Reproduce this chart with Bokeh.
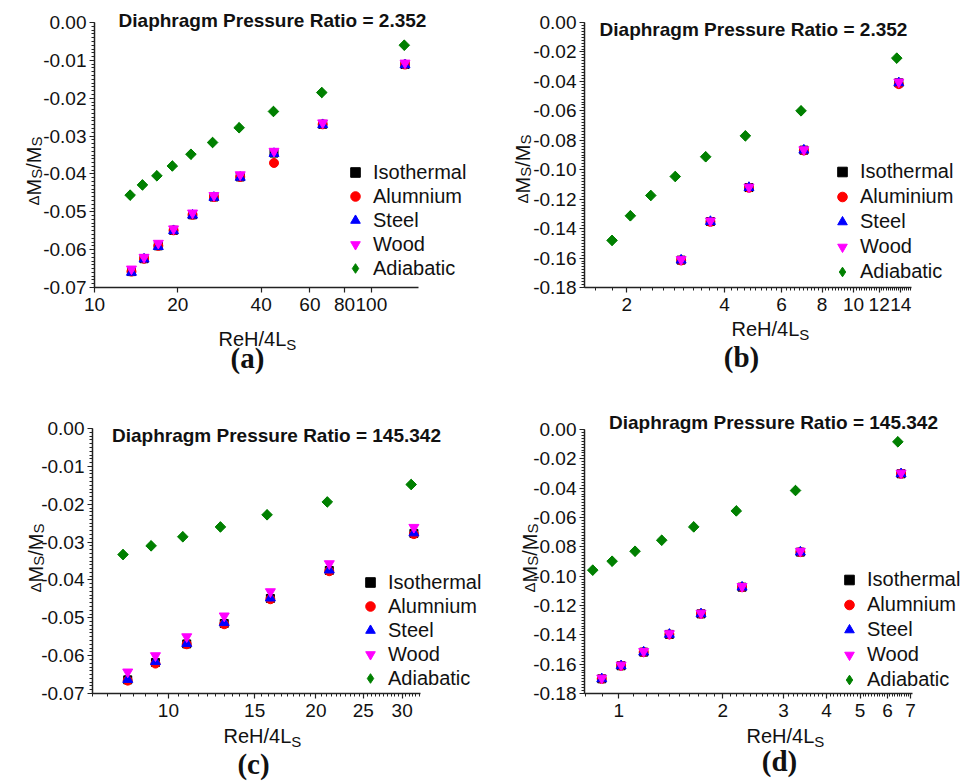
import math

from bokeh.embed import file_html
from bokeh.layouts import column, row
from bokeh.models import (FixedTicker, Label, Legend, LegendItem,
                          PrintfTickFormatter, Range1d)
from bokeh.plotting import figure
from bokeh.resources import INLINE

# ---------------------------------------------------------------- data
# (a) diaphragm pressure ratio 2.352
A_RE_ADIA = [13.45, 14.9, 16.8, 19.1, 22.3, 26.7, 33.3, 44.3, 66.2, 131.5]
A_ADIA = [-0.0456, -0.0429, -0.0405, -0.0379, -0.0348, -0.0317, -0.0278, -0.0235, -0.0185, -0.0060]
A_RE = [13.6, 15.1, 17.0, 19.3, 22.6, 27.0, 33.6, 44.5, 66.7, 132.3]
A_ISO = [-0.0658, -0.0624, -0.0590, -0.0549, -0.0508, -0.0461, -0.0408, -0.0345, -0.0269, -0.0111]
A_ALUM = [-0.0658, -0.0624, -0.0590, -0.0549, -0.0508, -0.0461, -0.0408, -0.0371, -0.0269, -0.0111]
A_STEEL = [-0.0660, -0.0625, -0.0592, -0.0550, -0.0509, -0.0462, -0.0409, -0.0346, -0.0270, -0.0112]
A_WOOD = [-0.0651, -0.0620, -0.0583, -0.0545, -0.0503, -0.0457, -0.0402, -0.0340, -0.0265, -0.0107]

# (b) diaphragm pressure ratio 2.352
B_RE_ADIA = [1.80, 2.05, 2.37, 2.82, 3.50, 4.64, 6.89, 13.6]
B_ADIA = [-0.1480, -0.1313, -0.1175, -0.1046, -0.0912, -0.0770, -0.0600, -0.0242]
B_RE = [2.94, 3.62, 4.76, 7.03, 13.8]
B_ISO = [-0.1614, -0.1352, -0.1121, -0.0867, -0.0410]
B_ALUM = [-0.1616, -0.1354, -0.1123, -0.0869, -0.0419]
B_STEEL = [-0.1614, -0.1352, -0.1121, -0.0867, -0.0410]
B_WOOD = [-0.1610, -0.1348, -0.1118, -0.0864, -0.0404]

# (c) diaphragm pressure ratio 145.342
C_RE_ADIA = [8.08, 9.22, 10.7, 12.77, 15.9, 21.1, 31.3]
C_ADIA = [-0.0333, -0.0310, -0.0286, -0.0260, -0.0228, -0.0194, -0.0148]
C_RE = [8.26, 9.41, 10.9, 13.0, 16.15, 21.3, 31.7]
C_ISO = [-0.0664, -0.0618, -0.0569, -0.0515, -0.0449, -0.0375, -0.0277]
C_ALUM = [-0.0666, -0.0621, -0.0570, -0.0517, -0.0451, -0.0377, -0.0279]
C_STEEL = [-0.0663, -0.0616, -0.0568, -0.0513, -0.0448, -0.0374, -0.0276]
C_WOOD = [-0.0643, -0.0600, -0.0550, -0.0495, -0.0431, -0.0357, -0.0261]

# (d) diaphragm pressure ratio 145.342
D_RE_ADIA = [0.841, 0.957, 1.115, 1.332, 1.649, 2.19, 3.25, 6.43]
D_ADIA = [-0.0959, -0.0898, -0.0830, -0.0755, -0.0664, -0.0555, -0.0416, -0.0084]
D_RE = [0.893, 1.016, 1.181, 1.402, 1.731, 2.276, 3.357, 6.57]
D_ISO = [-0.1700, -0.1611, -0.1518, -0.1397, -0.1257, -0.1075, -0.0836, -0.0302]
D_ALUM = [-0.1700, -0.1611, -0.1518, -0.1397, -0.1257, -0.1075, -0.0836, -0.0302]
D_STEEL = [-0.1700, -0.1611, -0.1518, -0.1397, -0.1257, -0.1075, -0.0836, -0.0302]
D_WOOD = [-0.1695, -0.1606, -0.1513, -0.1392, -0.1252, -0.1070, -0.0830, -0.0297]

# tick labels
A_XTICKS = [10, 20, 40, 60, 80, 100]
B_XTICKS = [2, 4, 6, 8, 10, 12, 14]
C_XTICKS = [10, 15, 20, 25, 30]
D_XTICKS = [1, 2, 3, 4, 5, 6, 7]
Y_TICKS_SMALL = [-0.07, -0.06, -0.05, -0.04, -0.03, -0.02, -0.01, 0.0]
Y_TICKS_LARGE = [-0.18, -0.16, -0.14, -0.12, -0.10, -0.08, -0.06, -0.04, -0.02, 0.0]

TITLE_LOW = "Diaphragm Pressure Ratio = 2.352"
TITLE_HIGH = "Diaphragm Pressure Ratio = 145.342"
LEGEND_LABELS = ["Isothermal", "Alumnium", "Steel", "Wood", "Adiabatic"]
LEGEND_LABELS_B = ["Isothermal", "Aluminium", "Steel", "Wood", "Adiabatic"]

FONT = "Liberation Sans"
AXIS_COLOR = "#222222"
TEXT_COLOR = "#111111"
COLORS = ["#000000", "#ff0000", "#0000ff", "#ff00ff", "#008000"]

# approximate advance widths (em) used to lay out the sub-scripted labels
ADV = {"R": 0.722, "e": 0.556, "H": 0.722, "/": 0.278, "4": 0.556,
       "L": 0.556, "S": 0.667, "M": 0.833, "Δ": 0.668}


def steps(start, stop, step):
    n = int(round((stop - start) / step))
    return [round(start + i * step, 6) for i in range(n + 1)]


class Panel:
    """One sub-plot; the frame fills the whole figure and the axes are
    pinned to the corner of the data box, so every text can sit outside it."""

    def __init__(self, w, h, box, xr, yr, xmajor, xminor, ymajor, yminor):
        left, right, top, bottom = box
        self.h = h
        lx0, lx1 = math.log10(xr[0]), math.log10(xr[1])
        kx = (lx1 - lx0) / (right - left)
        ky = (yr[1] - yr[0]) / (bottom - top)
        x_range = Range1d(10 ** (lx0 - left * kx), 10 ** (lx1 + (w - right) * kx))
        y_range = Range1d(yr[0] - (h - bottom) * ky, yr[1] + top * ky)
        p = figure(width=w, height=h, title=None, x_axis_type="log",
                   x_range=x_range, y_range=y_range,
                   output_backend="svg", toolbar_location=None, min_border=0)
        p.outline_line_color = None
        p.xgrid.visible = False
        p.ygrid.visible = False
        xa, ya = p.xaxis[0], p.yaxis[0]
        xa.fixed_location = yr[0]
        xa.bounds = xr
        ya.fixed_location = xr[0]
        ya.bounds = yr
        xa.ticker = FixedTicker(ticks=xmajor, minor_ticks=xminor)
        ya.ticker = FixedTicker(ticks=ymajor, minor_ticks=yminor)
        xa.formatter = PrintfTickFormatter(format="%d")
        ya.formatter = PrintfTickFormatter(format="%.2f")
        for ax in (xa, ya):
            ax.axis_line_color = AXIS_COLOR
            ax.axis_line_width = 1.5
            ax.major_tick_line_color = AXIS_COLOR
            ax.minor_tick_line_color = AXIS_COLOR
            ax.major_tick_line_width = 1.2
            ax.minor_tick_line_width = 1
            ax.major_tick_in = 0
            ax.minor_tick_in = 0
            ax.major_tick_out = 5
            ax.minor_tick_out = 3
            ax.major_label_text_font = FONT
            ax.major_label_text_font_size = "19px"
            ax.major_label_text_color = TEXT_COLOR
        xa.major_label_standoff = 5
        ya.major_label_standoff = 3
        self.p = p

    # positions are given from the figure's top-left corner
    def text(self, x, y, s, size, bold=False, serif=False, align="left",
             baseline="alphabetic", angle=0.0):
        self.p.add_layout(Label(
            x=x, y=self.h - y, x_units="screen", y_units="screen", text=s,
            text_font="Liberation Serif" if serif else FONT,
            text_font_size=f"{size}px",
            text_font_style="bold" if bold else "normal",
            text_align=align, text_baseline=baseline, angle=angle,
            text_color=TEXT_COLOR))

    def run(self, x0, y0, parts, vertical=False):
        pos = 0.0
        for s, size, drop in parts:
            if vertical:
                self.text(x0 + drop, y0 - pos, s, size, angle=math.pi / 2)
            else:
                self.text(x0 + pos, y0 + drop, s, size)
            pos += sum(ADV.get(c, 0.55) for c in s) * size

    def series(self, xo, ys, xa, adia, labels, legend_xy, row_h):
        p = self.p
        rends = [
            p.scatter(xo, ys[0], marker="square", size=8, color=COLORS[0]),
            p.scatter(xo, ys[1], marker="circle", size=9, color=COLORS[1]),
            p.scatter(xo, ys[2], marker="triangle", size=10, color=COLORS[2]),
            p.scatter(xo, ys[3], marker="inverted_triangle", size=10, color=COLORS[3]),
        ]
        # the adiabatic points: a plain diamond (used for the legend swatch)
        # covered by a square turned 45 degrees
        rends.append(p.scatter(xa, adia, marker="diamond", size=10, color=COLORS[4]))
        p.scatter(xa, adia, marker="square", angle=math.pi / 4, size=7.5,
                  color=COLORS[4])
        items = [LegendItem(label=l, renderers=[r]) for l, r in zip(labels, rends)]
        lg = Legend(items=items, location=(legend_xy[0], self.h - legend_xy[1]),
                    orientation="vertical",
                    border_line_alpha=0, background_fill_alpha=0,
                    label_text_font=FONT, label_text_font_size="20px",
                    label_text_color=TEXT_COLOR,
                    glyph_width=24, glyph_height=row_h, label_height=row_h,
                    spacing=0, padding=0, margin=0, label_standoff=6)
        p.add_layout(lg)

    def decorate(self, title, title_xy, xlab_xy, ylab_xy, tag, tag_xy):
        self.text(title_xy[0], title_xy[1], title, 19, bold=True,
                  align="center", baseline="middle")
        self.run(xlab_xy[0], xlab_xy[1], [("ReH/4L", 20, 0), ("S", 15, 6)])
        self.run(ylab_xy[0], ylab_xy[1],
                 [("Δ", 15, 0), ("M", 20, 0), ("S", 15, 3), ("/", 20, 0),
                  ("M", 20, 0), ("S", 15, 3)], vertical=True)
        self.text(tag_xy[0], tag_xy[1], tag, 29, bold=True, serif=True,
                  align="center", baseline="middle")


y_minor_small = steps(-0.07, 0.0, 0.001)
y_minor_large = steps(-0.18, 0.0, 0.002)

# (a)
pa = Panel(484, 390, (94, 418, 22, 287), (10, 148), (-0.07, 0.0),
           A_XTICKS, [], Y_TICKS_SMALL, y_minor_small)
pa.series(A_RE, [A_ISO, A_ALUM, A_STEEL, A_WOOD], A_RE_ADIA, A_ADIA,
          LEGEND_LABELS, (343, 280), 24)
pa.decorate(TITLE_LOW, (272, 20), (218, 338), (33, 205), "(a)", (247, 357))

# (b)
pb = Panel(484, 390, (100, 427, 22, 287), (1.48, 15.1), (-0.18, 0.0),
           B_XTICKS, steps(1.6, 15.0, 0.2), Y_TICKS_LARGE, y_minor_large)
pb.series(B_RE, [B_ISO, B_ALUM, B_STEEL, B_WOOD], B_RE_ADIA, B_ADIA,
          LEGEND_LABELS_B, (346, 284), 25)
pb.decorate(TITLE_LOW, (269, 29), (247, 328), (38, 203), "(b)", (257, 356))

# (c)
pc = Panel(484, 393, (92, 420, 38, 303), (7.0, 32.7), (-0.07, 0.0),
           C_XTICKS, steps(7.0, 32.5, 0.5), Y_TICKS_SMALL, y_minor_small)
pc.series(C_RE, [C_ISO, C_ALUM, C_STEEL, C_WOOD], C_RE_ADIA, C_ADIA,
          LEGEND_LABELS, (358, 300), 24)
pc.decorate(TITLE_HIGH, (276, 45), (223, 345), (35, 202), "(c)", (253, 373))

# (d)
pd_ = Panel(484, 393, (100, 428, 39, 303), (0.796, 7.09), (-0.18, 0.0),
            D_XTICKS, steps(0.8, 7.0, 0.1), Y_TICKS_LARGE, y_minor_large)
pd_.series(D_RE, [D_ISO, D_ALUM, D_STEEL, D_WOOD], D_RE_ADIA, D_ADIA,
           LEGEND_LABELS, (353, 302), 25)
pd_.decorate(TITLE_HIGH, (289, 32), (262, 345), (45, 202), "(d)", (295, 370))

layout = column(row(pa.p, pb.p), row(pc.p, pd_.p))

with open("out.html", "w") as f:
    f.write(file_html(layout, INLINE))
